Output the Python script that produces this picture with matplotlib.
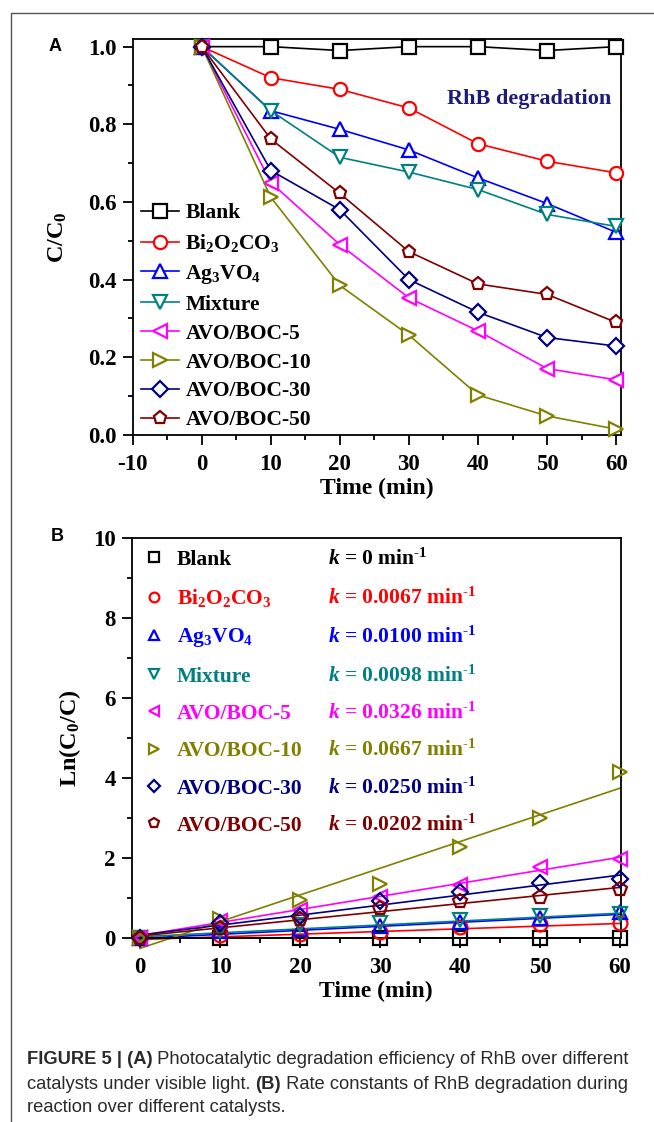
import numpy as np
import matplotlib
matplotlib.use("Agg")
import matplotlib.pyplot as plt
from matplotlib.lines import Line2D
from matplotlib.ticker import MultipleLocator, FormatStrFormatter

plt.rcParams["font.family"] = "Liberation Serif"
plt.rcParams["font.weight"] = "bold"
plt.rcParams["axes.labelweight"] = "bold"
plt.rcParams["axes.unicode_minus"] = False
plt.rcParams["mathtext.fontset"] = "custom"
plt.rcParams["mathtext.rm"] = "Liberation Serif:bold"
plt.rcParams["mathtext.it"] = "Liberation Serif:italic:bold"
plt.rcParams["mathtext.bf"] = "Liberation Serif:bold"
plt.rcParams["mathtext.default"] = "regular"

# ── data ────────────────────────────────────────────────────────────
time = [0, 10, 20, 30, 40, 50, 60]

names = ["Blank", "Bi$_2$O$_2$CO$_3$", "Ag$_3$VO$_4$", "Mixture",
         "AVO/BOC-5", "AVO/BOC-10", "AVO/BOC-30", "AVO/BOC-50"]
colors = ["#000000", "#ff0000", "#0000ff", "#008080",
          "#ff00ff", "#808000", "#000080", "#800000"]
markers = ["s", "o", "^", "v", "<", ">", "D", "p"]

# panel A: C/C0
cc0_blank = [1.0, 1.0, 0.99, 1.0, 1.0, 0.99, 1.0]
cc0_bi = [1.0, 0.92, 0.89, 0.842, 0.75, 0.705, 0.675]
cc0_ag = [1.0, 0.835, 0.787, 0.734, 0.662, 0.596, 0.522]
cc0_mix = [1.0, 0.835, 0.715, 0.677, 0.632, 0.568, 0.537]
cc0_boc5 = [1.0, 0.65, 0.49, 0.353, 0.268, 0.171, 0.142]
cc0_boc10 = [1.0, 0.612, 0.385, 0.257, 0.103, 0.049, 0.015]
cc0_boc30 = [1.0, 0.681, 0.58, 0.40, 0.316, 0.251, 0.229]
cc0_boc50 = [1.0, 0.762, 0.622, 0.472, 0.389, 0.362, 0.29]
cc0_all = [cc0_blank, cc0_bi, cc0_ag, cc0_mix, cc0_boc5, cc0_boc10, cc0_boc30, cc0_boc50]

# panel B: Ln(C0/C)
ln_blank = [0, 0, 0, 0, 0, 0, 0]
ln_bi = [0, 0.08, 0.12, 0.17, 0.29, 0.35, 0.39]
ln_ag = [0, 0.18, 0.24, 0.31, 0.42, 0.52, 0.65]
ln_mix = [0, 0.18, 0.34, 0.39, 0.46, 0.57, 0.62]
ln_boc5 = [0, 0.43, 0.71, 1.04, 1.32, 1.77, 1.98]
ln_boc10 = [0, 0.49, 0.95, 1.36, 2.27, 3.0, 4.15]
ln_boc30 = [0, 0.39, 0.55, 0.92, 1.15, 1.38, 1.48]
ln_boc50 = [0, 0.27, 0.48, 0.75, 0.94, 1.02, 1.24]
ln_all = [ln_blank, ln_bi, ln_ag, ln_mix, ln_boc5, ln_boc10, ln_boc30, ln_boc50]

# linear fits: slope k and intercept
k_vals = [0, 0.0067, 0.0100, 0.0098, 0.0326, 0.0667, 0.0250, 0.0202]
k_text = ["0", "0.0067", "0.0100", "0.0098", "0.0326", "0.0667", "0.0250", "0.0202"]
intercepts = [0.0, -0.03, 0.0, 0.04, 0.07, -0.25, 0.08, 0.06]

# ── figure ──────────────────────────────────────────────────────────
fig = plt.figure(figsize=(6.54, 11.22), dpi=100)
axA = fig.add_axes([0.2029, 0.6123, 0.7466, 0.3527])
axB = fig.add_axes([0.2014, 0.1637, 0.748, 0.3568])


def style_axis(ax):
    for sp in ax.spines.values():
        sp.set_linewidth(1.3)
    ax.tick_params(which="both", direction="out", top=False, right=False,
                   labelsize=16.5, width=1.3)
    ax.tick_params(which="major", length=7.2)
    ax.tick_params(which="minor", length=3.6)
    ax.tick_params(axis="x", which="major", pad=6.5)
    ax.tick_params(axis="y", which="major", pad=4.3)


# ── panel A ─────────────────────────────────────────────────────────
for vals, name, c, m in zip(cc0_all, names, colors, markers):
    ms = 8 if m == "D" else 9.5
    axA.plot(time, vals, color=c, lw=1.2, marker=m, ms=ms, mfc="white",
             mec=c, mew=1.6, label=name, clip_on=False, zorder=3)

axA.set_xlim(-10, 60.7)
axA.set_ylim(0, 1.019)
axA.xaxis.set_major_locator(MultipleLocator(10))
axA.xaxis.set_minor_locator(MultipleLocator(5))
axA.yaxis.set_major_locator(MultipleLocator(0.2))
axA.yaxis.set_minor_locator(MultipleLocator(0.1))
axA.yaxis.set_major_formatter(FormatStrFormatter("%.1f"))
style_axis(axA)
axA.set_xlabel("Time (min)", fontsize=17)
axA.set_ylabel("C/C$_0$", fontsize=17.5)
axA.yaxis.set_label_coords(-0.13, 0.5)
axA.xaxis.set_label_coords(0.5, -0.108)
axA.text(0.98, 0.85, "RhB degradation", transform=axA.transAxes,
         ha="right", va="center", fontsize=16, color="#1c1c78")
legA = axA.legend(loc="lower left", bbox_to_anchor=(0.0, -0.01), frameon=False,
                  fontsize=15.5, handlelength=1.75, handletextpad=0.3,
                  labelspacing=0.41, borderaxespad=0.2, borderpad=0.2)

# ── panel B ─────────────────────────────────────────────────────────
t_fit = np.array([0, 60])
for vals, k, b, c, m in zip(ln_all, k_vals, intercepts, colors, markers):
    axB.plot(t_fit, k * t_fit + b, color=c, lw=1.2, clip_on=False, zorder=2)

handlesB = []
for vals, name, c, m in zip(ln_all, names, colors, markers):
    ms = 8.5 if m == "D" else 10
    h, = axB.plot(time, vals, ls="none", marker=m, ms=ms, mfc="none",
                  mec=c, mew=1.6, label=name, clip_on=False, zorder=3)
    handlesB.append(h)

axB.set_xlim(-1.05, 60.1)
axB.set_ylim(0, 10)
axB.xaxis.set_major_locator(MultipleLocator(10))
axB.xaxis.set_minor_locator(MultipleLocator(5))
axB.yaxis.set_major_locator(MultipleLocator(2))
axB.yaxis.set_minor_locator(MultipleLocator(1))
style_axis(axB)
axB.set_xlabel("Time (min)", fontsize=17)
axB.set_ylabel("Ln(C$_0$/C)", fontsize=17.5)
axB.yaxis.set_label_coords(-0.1, 0.5)
axB.xaxis.set_label_coords(0.5, -0.107)

legB = axB.legend(handles=handlesB, loc="upper left", bbox_to_anchor=(0.0, 1.0),
                  frameon=False, fontsize=15.5, handlelength=1.0,
                  handletextpad=0.55, labelspacing=0.8, borderaxespad=0.3,
                  borderpad=0.25, markerscale=0.7)
for txt, c in zip(legB.get_texts(), colors):
    txt.set_color(c)

# panel labels
fig.text(0.084, 0.959, "A", fontsize=13, family="Liberation Sans",
         weight="bold", ha="center", va="center")
fig.text(0.087, 0.5215, "B", fontsize=13, family="Liberation Sans",
         weight="bold", ha="center", va="center")

# outer frame (open on right/bottom as in the page crop)
fig.add_artist(Line2D([0.0164, 0.0164, 1.0], [0.0, 0.9887, 0.9887],
                      transform=fig.transFigure, color="#555555", lw=1.0))

# k values aligned with the legend rows
fig.canvas.draw()
inv = axB.transAxes.inverted()
for txt, kt, c in zip(legB.get_texts(), k_text, colors):
    x0, y0 = txt.get_transform().transform(txt.get_position())
    yax = inv.transform((x0, y0))[1]
    axB.text(0.402, yax, r"$\mathit{k}$ = " + kt + r" min$^{\text{-1}}$",
             transform=axB.transAxes, color=c, fontsize=15.5,
             ha="left", va="baseline")

# caption, bold and regular pieces placed one after another
cap_font = ["Liberation Sans Narrow", "Liberation Sans"]
cap_size = 13.2
cap_color = "#2a2a2a"
line_y = [0.052, 0.0297, 0.0085]
caption = [
    [("FIGURE 5 | (A)", "bold"), (" Photocatalytic degradation efficiency of RhB over different", "normal")],
    [("catalysts under visible light. ", "normal"), ("(B)", "bold"), (" Rate constants of RhB degradation during", "normal")],
    [("reaction over different catalysts.", "normal")],
]
rend = fig.canvas.get_renderer()
for y, pieces in zip(line_y, caption):
    x = 0.041
    for s, w in pieces:
        t = fig.text(x, y, s, fontsize=cap_size, family=cap_font,
                     weight=w, color=cap_color, ha="left", va="baseline")
        bb = t.get_window_extent(rend)
        x = fig.transFigure.inverted().transform((bb.x1, 0))[0]

fig.savefig("out.png", dpi=100)
